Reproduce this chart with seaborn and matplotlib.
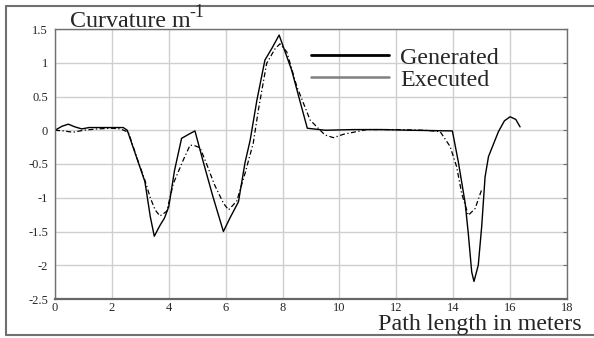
import matplotlib
matplotlib.use('Agg')
import numpy as np
import pandas as pd
import matplotlib.pyplot as plt
from matplotlib.lines import Line2D
import seaborn as sns

# path length (m) and curvature (1/m)
gen_s = [0.0, 0.25, 0.47, 0.7, 0.94, 1.2, 1.6, 2.0, 2.4, 2.54, 2.85, 3.16, 3.35, 3.49,
         3.69, 3.85, 4.0, 4.2, 4.45, 4.7, 4.92, 5.2, 5.55, 5.92, 6.15, 6.45, 6.68, 6.86,
         7.1, 7.38, 7.62, 7.88, 8.1, 8.32, 8.6, 8.87, 9.5, 10.5, 11.5, 12.5, 13.97,
         14.18, 14.42, 14.53, 14.65, 14.73, 14.88, 15.0, 15.12, 15.24, 15.59, 15.8,
         16.0, 16.2, 16.35]
gen_k = [0.0, 0.06, 0.09, 0.05, 0.02, 0.04, 0.04, 0.04, 0.04, 0.0, -0.38, -0.76, -1.28,
         -1.57, -1.41, -1.3, -1.13, -0.6, -0.12, -0.06, -0.01, -0.45, -0.98, -1.50,
         -1.30, -1.06, -0.48, -0.15, 0.45, 1.04, 1.21, 1.41, 1.15, 0.89, 0.45, 0.03,
         0.0, 0.01, 0.01, 0.0, -0.01, -0.47, -1.08, -1.53, -2.1, -2.24, -2.0, -1.43,
         -0.69, -0.39, -0.02, 0.14, 0.2, 0.16, 0.05]

exe_s = [0.0, 0.3, 0.64, 1.0, 1.5, 2.0, 2.3, 2.58, 2.93, 3.16, 3.35, 3.52, 3.69, 3.93,
         4.16, 4.51, 4.75, 4.92, 5.1, 5.33, 5.6, 5.92, 6.10, 6.39, 6.68, 6.97, 7.15,
         7.44, 7.74, 7.91, 8.15, 8.5, 8.97, 9.49, 9.79, 10.14, 10.96, 12.0, 13.0,
         13.54, 13.89, 14.12, 14.30, 14.53, 14.77, 15.0]
exe_k = [0.0, -0.01, -0.03, 0.0, 0.02, 0.03, 0.02, -0.03, -0.47, -0.74, -1.0, -1.18,
         -1.27, -1.2, -0.79, -0.44, -0.22, -0.23, -0.26, -0.5, -0.8, -1.08, -1.18,
         -1.05, -0.64, -0.19, 0.3, 0.99, 1.21, 1.28, 1.16, 0.65, 0.15, -0.07, -0.11,
         -0.06, 0.01, 0.01, 0.0, -0.02, -0.24, -0.54, -0.94, -1.26, -1.16, -0.88]

x_ticks = [0, 2, 4, 6, 8, 10, 12, 14, 16, 18]
y_ticks = [-2.5, -2, -1.5, -1, -0.5, 0, 0.5, 1, 1.5]
y_tick_labels = ['-2.5', '-2', '-1.5', '-1', '-0.5', '0', '0.5', '1', '1.5']
labels = ['Generated', 'Executed']

sns.set_style('whitegrid')
plt.rcParams['font.family'] = ['Liberation Serif', 'DejaVu Serif']
plt.rcParams['axes.unicode_minus'] = False

W, H = 594, 338
fig = plt.figure(figsize=(W / 100, H / 100), dpi=100)
ax = fig.add_axes([55 / W, 1 - 299 / H, 512 / W, 270 / H])

gen = pd.DataFrame({'s': gen_s, 'k': gen_k})
exe = pd.DataFrame({'s': exe_s, 'k': exe_k})
sns.lineplot(data=gen, x='s', y='k', ax=ax, color='black', lw=1.0)
sns.lineplot(data=exe, x='s', y='k', ax=ax, color='black', lw=0.9,
             linestyle=(0, (4, 2, 1, 2)))

ax.set_xlim(0, 18)
ax.set_ylim(-2.5, 1.5)
ax.set_xticks(x_ticks)
ax.set_xticklabels([str(t) for t in x_ticks])
ax.set_yticks(y_ticks)
ax.set_yticklabels(y_tick_labels)
ax.set_xlabel('')
ax.set_ylabel('')
ax.grid(True, color='#cfcfcf', lw=1)
for side in ['top', 'right', 'left']:
    ax.spines[side].set_color('#707070')
    ax.spines[side].set_linewidth(1.0)
ax.spines['bottom'].set_color('#666666')
ax.spines['bottom'].set_linewidth(1.6)
ax.tick_params(axis='x', length=0, pad=2, labelsize=9)
ax.tick_params(axis='y', left=False, right=True, labelleft=True, direction='in',
               length=3, color='#707070', pad=5, labelsize=9)

# title with a plain hyphen in the exponent
fig.text(70 / W, 1 - 27 / H, 'Curvature m', fontsize=17.3, va='baseline')
fig.text(189 / W, 1 - 17 / H, '-1', fontsize=13, va='baseline')
fig.text(582 / W, 1 - 330 / H, 'Path length in meters', fontsize=17.3,
         ha='right', va='baseline')

handles = [Line2D([], [], color='black', lw=2.0),
           Line2D([], [], color='#808080', lw=1.8)]
fig.legend(handles, labels, loc='upper left', bbox_to_anchor=(311 / W, 1 - 47 / H),
           frameon=False, fontsize=17.3, handlelength=3.25, handletextpad=0.45,
           labelspacing=0.0, borderpad=0, borderaxespad=0)

# outer frame
fc = '#707070'
fig.add_artist(Line2D([5.5 / W, 5.5 / W], [1 - 6 / H, 1 - 335 / H], color=fc, lw=1.5))
fig.add_artist(Line2D([5.5 / W, 1.0], [1 - 6 / H, 1 - 6 / H], color=fc, lw=1.5))
fig.add_artist(Line2D([5.5 / W, 1.0], [1 - 335 / H, 1 - 335 / H], color=fc, lw=1.5))

fig.savefig('out.png', dpi=100)
